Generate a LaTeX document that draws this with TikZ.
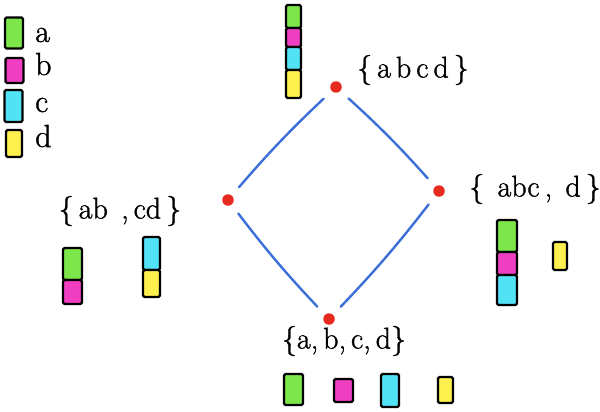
\documentclass[tikz,border=0pt]{standalone}
\usepackage{fontspec}
\newfontfamily\hand{Latin Modern Roman}[FakeBold=1.2]
\definecolor{cgreen}{HTML}{7DE64A}
\definecolor{cmag}{HTML}{F03EC2}
\definecolor{ccyan}{HTML}{52E2F6}
\definecolor{cyel}{HTML}{FCEF4E}
\definecolor{cred}{HTML}{E62A1E}
\definecolor{cblue}{HTML}{3C6FD8}
\tikzset{
  cbox/.style={draw=black, line width=2.2pt, rounded corners=1.5pt, inner sep=0pt, minimum width=18pt},
  ga/.style={cbox, fill=cgreen},
  gb/.style={cbox, fill=cmag},
  gc/.style={cbox, fill=ccyan},
  gd/.style={cbox, fill=cyel},
  dotn/.style={circle, fill=cred, inner sep=0pt, minimum size=11.5pt},
  edge/.style={cblue, line width=2.4pt, line cap=round, shorten >=11pt, shorten <=11pt},
  lbl/.style={font=\hand\fontsize{30}{30}\selectfont, inner sep=0pt},
  leg/.style={font=\hand\fontsize{32}{32}\selectfont, inner sep=0pt, anchor=base west}
}
\begin{document}
\begin{tikzpicture}[x=1pt,y=-1pt]
\useasboundingbox (0,0) rectangle (600,412);
% legend
\node[ga, minimum height=31pt] (la) at (14,33) {};
\node[gb, minimum height=25pt] (lb) at (14.5,70.5) {};
\node[gc, minimum height=32pt] (lc) at (13.5,106) {};
\node[gd, minimum height=27pt, minimum width=16pt] (ld) at (14,143.5) {};
\node[leg] (ta) at (35,42) {a};
\node[leg] (tb) at (35,75) {b};
\node[leg] (tc) at (35,112) {c};
\node[leg] (td) at (35,147) {d};
% dots
\node[dotn] (top) at (336,87) {};
\node[dotn] (left) at (228,200) {};
\node[dotn] (right) at (439,191) {};
\node[dotn] (bot) at (329,319) {};
% edges
\draw[edge] (left) to[bend left=3] (top);
\draw[edge] (top) to[bend left=3] (right);
\draw[edge] (right) to[bend left=3] (bot);
\draw[edge] (bot) to[bend left=3] (left);
% labels
\node[lbl] (ltop) at (413,70) {\{\,a\,b\,c\,d\,\}};
\node[lbl] (lleft) at (120,211) {\{\,ab\;\,,\,cd\,\}};
\node[lbl] (lright) at (535,189) {\{\;\,abc\,,\;\,d\,\}};
\node[lbl] (lbot) at (344,341) {\{a,\,b,\,c,\,d\}};
% top stack
\node[ga, minimum height=23pt, minimum width=15pt] (t1) at (293.5,16.5) {};
\node[gb, minimum height=19pt, minimum width=15pt] (t2) at (293.5,37.5) {};
\node[gc, minimum height=23pt, minimum width=15pt] (t3) at (293.5,58.5) {};
\node[gd, minimum height=28pt, minimum width=15pt] (t4) at (293.5,84) {};
% left stacks
\node[ga, minimum height=32pt, minimum width=19pt] (l1) at (72.5,264) {};
\node[gb, minimum height=24pt, minimum width=19pt] (l2) at (72.5,292) {};
\node[gc, minimum height=33pt, minimum width=17pt] (l3) at (151.5,253.5) {};
\node[gd, minimum height=27pt, minimum width=17pt] (l4) at (151.5,283.5) {};
% right stacks
\node[ga, minimum height=32pt, minimum width=20pt] (r1) at (507,236) {};
\node[gb, minimum height=23pt, minimum width=20pt] (r2) at (507,263.5) {};
\node[gc, minimum height=30pt, minimum width=20pt] (r3) at (507,290) {};
\node[gd, minimum height=28pt, minimum width=14pt] (r4) at (560,256) {};
% bottom singles
\node[ga, minimum height=31pt, minimum width=19pt] (b1) at (293.5,389.5) {};
\node[gb, minimum height=23pt, minimum width=19pt] (b2) at (343.5,390.5) {};
\node[gc, minimum height=33pt, minimum width=18pt] (b3) at (390,390.5) {};
\node[gd, minimum height=26pt, minimum width=15pt] (b4) at (445.5,390) {};
\end{tikzpicture}
\end{document}
